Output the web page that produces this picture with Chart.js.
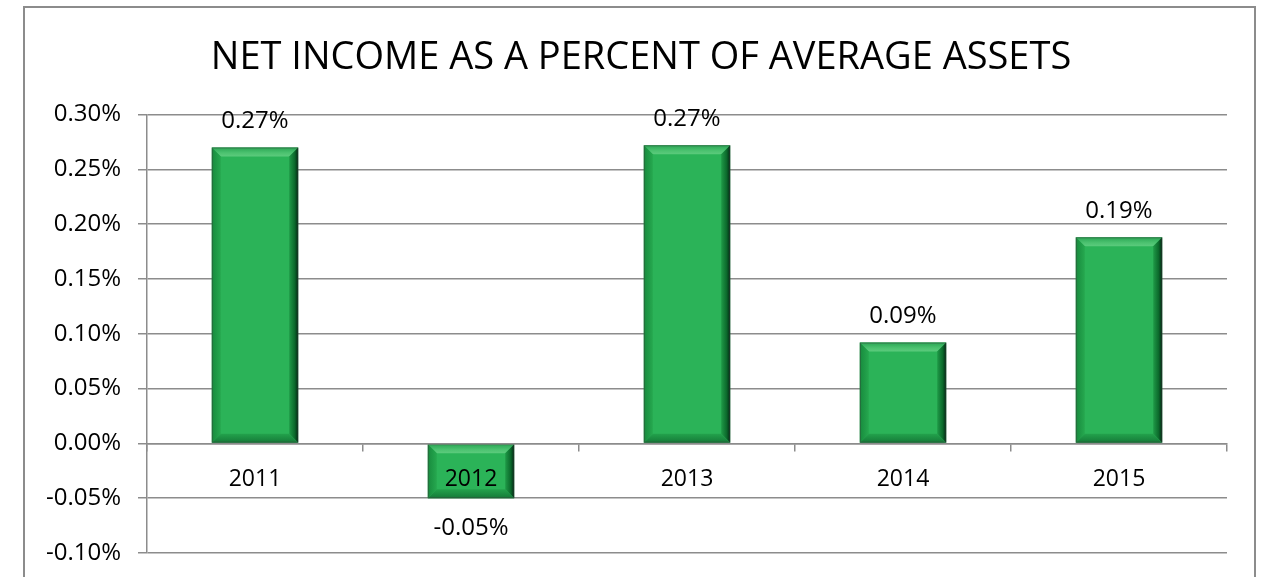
<!DOCTYPE html>
<html>
<head>
<meta charset="utf-8">
<script src="https://cdn.jsdelivr.net/npm/chart.js@4/dist/chart.umd.min.js"></script>
<style>
  body { margin: 0; background: #fff; }
  #wrap { width: 1264px; height: 577px; }
</style>
</head>
<body>
<div id="wrap"><canvas id="grafico" width="1264" height="577"></canvas></div>
<script>
const anos = ["2011", "2012", "2013", "2014", "2015"];
const valores = [0.27, -0.05, 0.272, 0.092, 0.188];
const rotulos = ["0.27%", "-0.05%", "0.27%", "0.09%", "0.19%"];
const tituloTexto = "NET INCOME AS A PERCENT OF AVERAGE ASSETS";

const fonte = "'Open Sans', sans-serif";

// moldura cinza em volta do grafico, titulo centralizado nela
const moldura = {
  id: "moldura",
  afterLayout(chart) {
    if (chart.titleBlock) {
      chart.titleBlock.left = 24;
      chart.titleBlock.right = 1258;
    }
  },
  beforeDraw(chart) {
    const ctx = chart.ctx;
    ctx.save();
    ctx.strokeStyle = "#8c8c8c";
    ctx.lineWidth = 2;
    ctx.strokeRect(24, 7, 1231, 600);
    ctx.restore();
  },
};

// efeito chanfrado nas barras + rotulos de valor
const chanfro = {
  id: "chanfro",
  afterDatasetsDraw(chart) {
    const ctx = chart.ctx;
    const meta = chart.getDatasetMeta(0);
    meta.data.forEach((bar, i) => {
      const p = bar.getProps(["x", "y", "base", "width"], true);
      const L = p.x - p.width / 2, R = p.x + p.width / 2;
      const T = Math.min(p.y, p.base), B = Math.max(p.y, p.base);
      const b = Math.min(9, (B - T) / 2);
      ctx.save();
      // topo
      let g = ctx.createLinearGradient(0, T, 0, T + b);
      g.addColorStop(0, "#2aa654");
      g.addColorStop(0.6, "#4cc270");
      g.addColorStop(1, "#5ccb7d");
      ctx.fillStyle = g;
      ctx.beginPath();
      ctx.moveTo(L, T); ctx.lineTo(R, T); ctx.lineTo(R - b, T + b); ctx.lineTo(L + b, T + b);
      ctx.closePath(); ctx.fill();
      // esquerda
      g = ctx.createLinearGradient(L, 0, L + b, 0);
      g.addColorStop(0, "#178a3d");
      g.addColorStop(1, "#26a84f");
      ctx.fillStyle = g;
      ctx.beginPath();
      ctx.moveTo(L, T); ctx.lineTo(L + b, T + b); ctx.lineTo(L + b, B - b); ctx.lineTo(L, B);
      ctx.closePath(); ctx.fill();
      // direita
      g = ctx.createLinearGradient(R - b, 0, R, 0);
      g.addColorStop(0, "#1f9a47");
      g.addColorStop(0.6, "#0c6a2c");
      g.addColorStop(1, "#022a14");
      ctx.fillStyle = g;
      ctx.beginPath();
      ctx.moveTo(R, T); ctx.lineTo(R, B); ctx.lineTo(R - b, B - b); ctx.lineTo(R - b, T + b);
      ctx.closePath(); ctx.fill();
      // base
      g = ctx.createLinearGradient(0, B - b, 0, B);
      g.addColorStop(0, "#23a24c");
      g.addColorStop(1, "#157a38");
      ctx.fillStyle = g;
      ctx.beginPath();
      ctx.moveTo(L, B); ctx.lineTo(R, B); ctx.lineTo(R - b, B - b); ctx.lineTo(L + b, B - b);
      ctx.closePath(); ctx.fill();
      ctx.strokeStyle = "rgba(60,60,60,0.45)";
      ctx.lineWidth = 1;
      ctx.strokeRect(L + 0.5, T + 0.5, p.width - 1, B - T - 1);

      // rotulo
      ctx.fillStyle = "#000";
      ctx.font = "24px " + fonte;
      ctx.textAlign = "center";
      ctx.textBaseline = "middle";
      const ty = valores[i] >= 0 ? p.y - 26 : p.y + 30;
      ctx.fillText(rotulos[i], p.x, ty);
      ctx.restore();
    });
  },
};

new Chart(document.getElementById("grafico"), {
  type: "bar",
  plugins: [moldura, chanfro],
  data: {
    labels: anos,
    datasets: [
      {
        data: valores,
        backgroundColor: "#2bb358",
        borderWidth: 0,
        categoryPercentage: 1,
        barPercentage: 0.4,
      },
    ],
  },
  options: {
    responsive: false,
    animation: false,
    devicePixelRatio: 1,
    layout: { padding: { top: 0, left: 0, right: 37, bottom: 24 } },
    plugins: {
      legend: { display: false },
      tooltip: { enabled: false },
      title: {
        display: true,
        text: tituloTexto,
        color: "#000",
        font: { family: fonte, size: 38, weight: "normal" },
        padding: { top: 35, bottom: 34 },
      },
    },
    scales: {
      x: {
        position: { y: 0 },
        grid: {
          offset: true,
          drawOnChartArea: false,
          drawTicks: true,
          tickLength: 7,
          color: "#8c8c8c",
          lineWidth: 1.5,
        },
        border: { color: "#8c8c8c", width: 1.5, z: 1 },
        ticks: {
          z: 1,
          color: "#000",
          font: { family: fonte, size: 23 },
          padding: 15,
        },
      },
      y: {
        min: -0.1,
        max: 0.3,
        afterFit(s) {
          s.width = 147;
          s.paddingTop = 10;
          s.paddingBottom = 10;
        },
        grid: { color: "#8c8c8c", lineWidth: 1.5, tickLength: 9 },
        border: { color: "#8c8c8c", width: 1.5 },
        ticks: {
          stepSize: 0.05,
          color: "#000",
          padding: 17,
          font: { family: fonte, size: 24 },
          callback: (v) => v.toFixed(2) + "%",
        },
      },
    },
  },
});
</script>
</body>
</html>
